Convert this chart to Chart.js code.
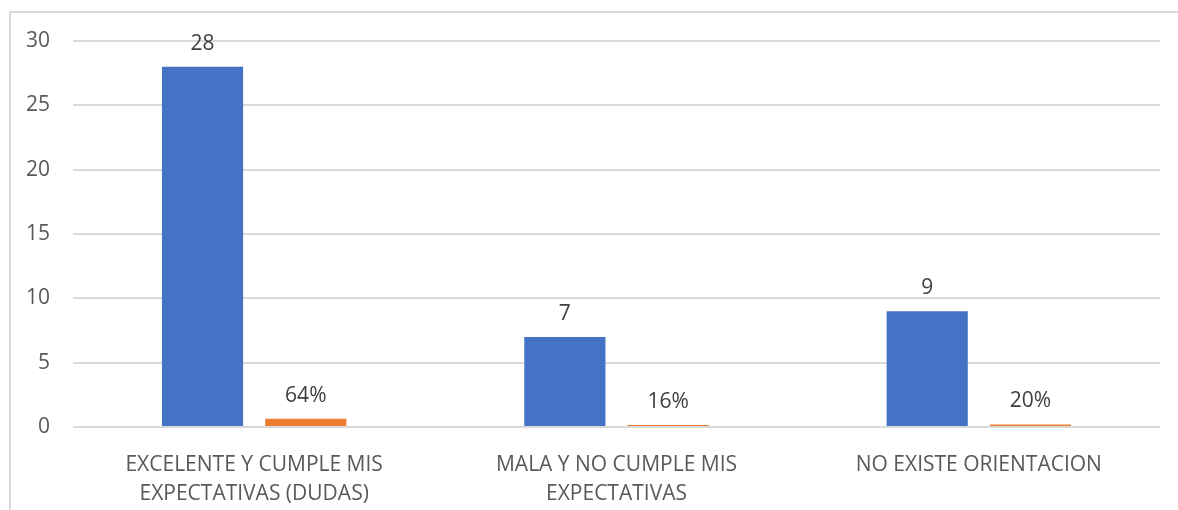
<!DOCTYPE html>
<html>
<head>
<meta charset="utf-8">
<script src="https://cdn.jsdelivr.net/npm/chart.js@4.4.0/dist/chart.umd.min.js"></script>
<style>
  html, body { margin: 0; padding: 0; background: #fff; }
  #wrap { position: relative; width: 1178px; height: 510px; overflow: hidden; }
  #frame { position: absolute; left: 9px; top: 11px; width: 1200px; height: 520px; border-left: 2px solid #d9d9d9; border-top: 2px solid #d9d9d9; box-sizing: border-box; pointer-events: none; }
  canvas { position: absolute; left: 0; top: 0; }
</style>
</head>
<body>
<div id="wrap">
  <canvas id="c" width="1178" height="510"></canvas>
  <div id="frame"></div>
</div>
<script>
const categories = [
  ["EXCELENTE Y CUMPLE MIS", "EXPECTATIVAS (DUDAS)"],
  ["MALA Y NO CUMPLE MIS", "EXPECTATIVAS"],
  ["NO EXISTE ORIENTACION"]
];
const countValues = [28, 7, 9];
const percentValues = [0.64, 0.16, 0.20];
const percentLabels = ["64%", "16%", "20%"];
const yTicks = [0, 5, 10, 15, 20, 25, 30];

const FONT = "'Open Sans', sans-serif";

const dataLabels = {
  id: 'dataLabels',
  afterDatasetsDraw(chart) {
    const ctx = chart.ctx;
    ctx.save();
    ctx.font = "21px " + FONT;
    ctx.fillStyle = '#404040';
    ctx.textAlign = 'center';
    ctx.textBaseline = 'alphabetic';
    chart.data.datasets.forEach((ds, di) => {
      const meta = chart.getDatasetMeta(di);
      meta.data.forEach((bar, i) => {
        const txt = di === 0 ? String(countValues[i]) : percentLabels[i];
        ctx.fillText(txt, bar.x, bar.y - 17);
      });
    });
    ctx.restore();
  }
};

new Chart(document.getElementById('c'), {
  type: 'bar',
  data: {
    labels: categories,
    datasets: [
      { label: 'Cantidad', data: countValues, backgroundColor: '#4472C4', categoryPercentage: 0.57, barPercentage: 0.786 },
      { label: 'Porcentaje', data: percentValues, backgroundColor: '#ED7D31', categoryPercentage: 0.57, barPercentage: 0.786 }
    ]
  },
  options: {
    responsive: false,
    animation: false,
    layout: { padding: { top: 41, right: 18, left: 0, bottom: 0 } },
    plugins: { legend: { display: false }, tooltip: { enabled: false } },
    scales: {
      x: {
        grid: { display: false },
        border: { display: false },
        ticks: { color: '#595959', font: { family: FONT, size: 21, lineHeight: '29px' }, padding: 16, maxRotation: 0, autoSkip: false },
        afterFit(scale) { scale.height = 83; }
      },
      y: {
        min: 0, max: 30,
        afterBuildTicks(scale) { scale.ticks = yTicks.map(v => ({ value: v })); },
        grid: { color: '#d9d9d9', lineWidth: 2, drawTicks: false },
        border: { display: false },
        ticks: { color: '#595959', font: { family: FONT, size: 21 }, padding: 23 },
        afterFit(scale) { scale.width = 73; }
      }
    }
  },
  plugins: [dataLabels]
});
</script>
</body>
</html>
